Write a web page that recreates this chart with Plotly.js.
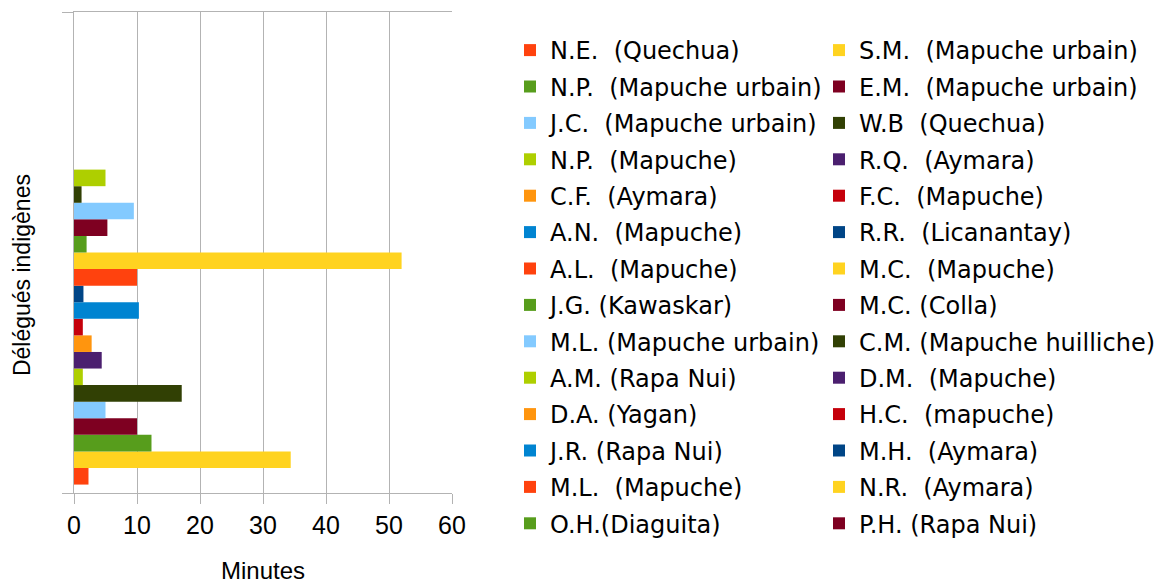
<!DOCTYPE html>
<html>
<head>
<meta charset="utf-8">
<script src="https://cdn.plot.ly/plotly-3.0.1.min.js"></script>
<style>html,body{margin:0;padding:0;background:#fff;}#chart{width:1156px;height:584px;}</style>
</head>
<body>
<div id="chart"></div>
<script>
const categories = ['Délégués indigènes'];
const seriesNames = [
  'N.E.\u00a0 (Quechua)', 'S.M.\u00a0 (Mapuche urbain)',
  'N.P.\u00a0 (Mapuche urbain)', 'E.M.\u00a0 (Mapuche urbain)',
  'J.C.\u00a0 (Mapuche urbain)', 'W.B\u00a0 (Quechua)',
  'N.P.\u00a0 (Mapuche)', 'R.Q.\u00a0 (Aymara)',
  'C.F.\u00a0 (Aymara)', 'F.C.\u00a0 (Mapuche)',
  'A.N.\u00a0 (Mapuche)', 'R.R.\u00a0 (Licanantay)',
  'A.L.\u00a0 (Mapuche)', 'M.C.\u00a0 (Mapuche)',
  'J.G. (Kawaskar)', 'M.C. (Colla)',
  'M.L. (Mapuche urbain)', 'C.M. (Mapuche huilliche)',
  'A.M. (Rapa Nui)', 'D.M.\u00a0 (Mapuche)',
  'D.A. (Yagan)', 'H.C.\u00a0 (mapuche)',
  'J.R. (Rapa Nui)', 'M.H.\u00a0 (Aymara)',
  'M.L.\u00a0 (Mapuche)', 'N.R.\u00a0 (Aymara)',
  'O.H.(Diaguita)', 'P.H. (Rapa Nui)'
];
const minutes = [
  2.3, 34.4, 12.3, 10.0, 5.0, 17.1, 1.4, 4.4, 2.8, 1.4,
  10.3, 1.5, 10.0, 52.0, 2.0, 5.3, 9.5, 1.2, 5.0,
  null, null, null, null, null, null, null, null, null
];
const palette = ['#ff420e', '#ffd320', '#579d1c', '#7e0021', '#83caff', '#314004',
                 '#aecf00', '#4b1f6f', '#ff950e', '#c5000b', '#0084d1', '#004586'];

const traces = seriesNames.map((name, i) => ({
  type: 'bar',
  orientation: 'h',
  name: name,
  y: categories,
  x: [minutes[i]],
  marker: { color: palette[i % palette.length], line: { width: 0 } },
  legend: i % 2 === 0 ? 'legend' : 'legend2',
  legendgroup: 'g' + i,
  hoverinfo: 'x+name'
}));

const gridCol = '#b3b3b3';
const legendFont = { family: 'DejaVu Sans, sans-serif', size: 24, color: '#000' };

const legendBase = {
  xref: 'container', yref: 'container',
  y: 1 - 28 / 584,
  xanchor: 'left', yanchor: 'top',
  orientation: 'v',
  traceorder: 'grouped',
  tracegroupgap: 2.2,
  maxheight: 570,
  bgcolor: 'rgba(0,0,0,0)',
  borderwidth: 0,
  font: legendFont
};

const layout = {
  width: 1156,
  height: 584,
  paper_bgcolor: '#ffffff',
  plot_bgcolor: '#ffffff',
  margin: { l: 74, r: 704, t: 12, b: 91, autoexpand: false },
  barmode: 'group',
  bargap: 0.035,
  bargroupgap: 0,
  font: { family: 'Liberation Sans, Arial, sans-serif', color: '#000' },
  xaxis: {
    range: [0, 60],
    tickmode: 'linear',
    tick0: 0,
    dtick: 10,
    showgrid: true,
    gridcolor: gridCol,
    gridwidth: 1,
    zeroline: false,
    showline: true,
    mirror: true,
    linecolor: gridCol,
    linewidth: 1,
    ticks: 'outside',
    ticklen: 10,
    tickcolor: gridCol,
    tickwidth: 1,
    ticklabelstandoff: 0,
    tickfont: { family: 'Liberation Sans, Arial, sans-serif', size: 25, color: '#000' },
    title: { text: 'Minutes', font: { family: 'Liberation Sans, Arial, sans-serif', size: 24, color: '#000' }, standoff: 32 },
    automargin: false,
    fixedrange: true
  },
  yaxis: {
    type: 'category',
    showticklabels: false,
    tickson: 'boundaries',
    ticks: 'outside',
    ticklen: 11,
    tickcolor: gridCol,
    tickwidth: 1,
    showgrid: true,
    gridcolor: gridCol,
    gridwidth: 1,
    showline: true,
    linecolor: gridCol,
    linewidth: 1,
    automargin: false,
    fixedrange: true
  },
  annotations: [{
    text: 'Délégués indigènes',
    xref: 'paper', yref: 'paper',
    x: -0.1376, y: 0.453,
    xanchor: 'center', yanchor: 'middle',
    textangle: -90,
    showarrow: false,
    font: { family: 'Liberation Sans, Arial, sans-serif', size: 23, color: '#000' }
  }],
  legend: Object.assign({}, legendBase, { x: 510 / 1156 }),
  legend2: Object.assign({}, legendBase, { x: 819 / 1156 }),
  showlegend: true
};

Plotly.newPlot('chart', traces, layout, { displayModeBar: false, responsive: false });
</script>
</body>
</html>
